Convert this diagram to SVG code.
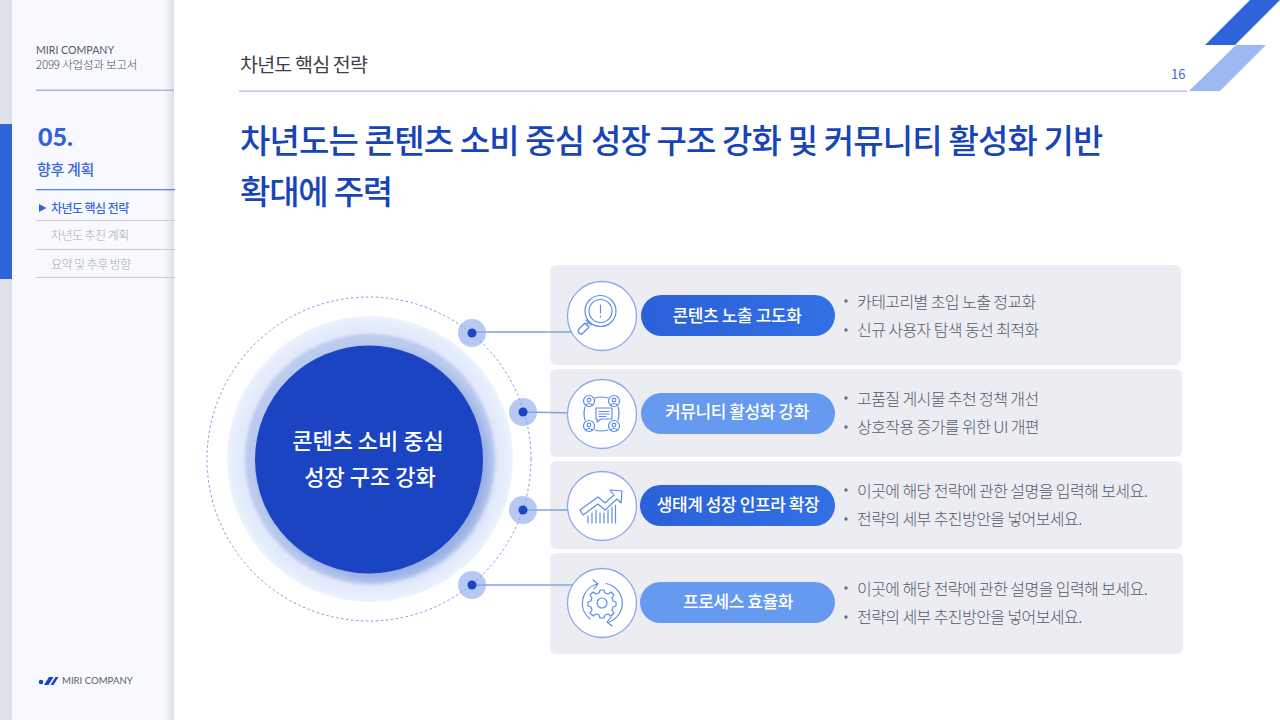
<svg xmlns="http://www.w3.org/2000/svg" width="1280" height="720" viewBox="0 0 1280 720">
<style>
text{font-family:"Noto Sans CJK KR","Noto Sans",sans-serif}
.lat{font-family:"Lato","Noto Sans CJK KR",sans-serif}
.card{fill:#ecedf3}
.pill{font-size:17px;font-weight:500;fill:#fff;text-anchor:middle;letter-spacing:-.4px}
.body{font-size:16px;font-weight:300;fill:#555a66;letter-spacing:-.57px}
.bul{fill:#666b76}
.ic{fill:#fff;stroke:#8aa8ea;stroke-width:1.3}
.g{fill:none;stroke:#5f8ce6;stroke-width:1.200;stroke-linecap:round;stroke-linejoin:round}
.side{font-size:12px;letter-spacing:-.55px}
.conn{stroke:#7fa2e6;stroke-width:1.300;fill:none}
.halo{fill:#8aa8ea;fill-opacity:.62}
.dot{fill:#1c45c4}
</style>
<defs>
<linearGradient id="sh" x1="0" x2="1" y1="0" y2="0"><stop offset="0" stop-color="#d9dce6" stop-opacity="0"/><stop offset="1" stop-color="#d9dce6" stop-opacity=".9"/></linearGradient>
<linearGradient id="p1" x1="0" x2="1"><stop offset="0" stop-color="#2b60d8"/><stop offset="1" stop-color="#3270e4"/></linearGradient>
<radialGradient id="out"><stop offset=".85" stop-color="#dfe8fa"/><stop offset=".96" stop-color="#e6edfc"/><stop offset="1" stop-color="#eef3fd"/></radialGradient>
<filter id="blur" x="-20%" y="-20%" width="140%" height="140%"><feGaussianBlur stdDeviation="5"/></filter>
<filter id="soft" x="-10%" y="-10%" width="120%" height="120%"><feGaussianBlur stdDeviation="1.500"/></filter>
</defs>
<rect width="1280" height="720" fill="#fff"/>
<g id="sidebar">
<rect x="0" width="12" height="720" fill="#dfe1ea"/>
<rect x="12" width="162" height="720" fill="#f8f9fe"/>
<rect x="164" width="10" height="720" fill="url(#sh)"/>
<rect x="0" y="124" width="12" height="155" fill="#2f63dc"/>
<text x="36" y="54" class="lat" font-size="10.600" fill="#555a66">MIRI COMPANY</text>
<text x="36" y="69" font-size="11.500" font-weight="300" fill="#4a4e5a" letter-spacing="-.2">2099 사업성과 보고서</text>
<rect x="36" y="89.500" width="138" height="1.500" fill="#aab6d6"/>
<text x="38" y="146" class="lat" font-size="25" font-weight="900" fill="#2f63dc">05.</text>
<text x="37" y="175" font-size="15" font-weight="500" fill="#3a68d8" letter-spacing="-.3">향후 계획</text>
<rect x="36" y="189" width="139" height="1.300" fill="#5b85de"/>
<path d="M39 204l7.500 4-7.500 4z" fill="#2f63dc"/>
<text x="51" y="213" class="side" fill="#3a68d8" font-weight="500">차년도 핵심 전략</text>
<rect x="36" y="220" width="139" height="1" fill="#c8cad2"/>
<text x="51" y="240" class="side" font-weight="300" fill="#a8aab2">차년도 추진 계획</text>
<rect x="36" y="249" width="139" height="1" fill="#c8cad2"/>
<text x="51" y="269" class="side" font-weight="300" fill="#a8aab2">요약 및 추후 방향</text>
<rect x="36" y="277" width="139" height="1" fill="#c8cad2"/>
<g id="logo">
<circle cx="41" cy="682" r="2.300" fill="#1c45c4"/>
<path d="M44 685l5-8h4.500l-5 8zM50.500 685l5-8h3l-5 8z" fill="#1c45c4"/>
<text x="62" y="684" class="lat" font-size="9.600" fill="#5c5f6b">MIRI COMPANY</text>
</g>
</g>
<g id="header">
<text x="240" y="72" font-size="19.500" font-weight="400" fill="#3c4048" letter-spacing="-.8">차년도 핵심 전략</text>
<rect x="239" y="90.500" width="948" height="1.300" fill="#a9bbe8"/>
<text x="1171" y="79" font-family="Roboto" font-size="13" fill="#3a68d8">16</text>
<path d="M1205 45l45-45h30l-45 45z" fill="#2f63dc"/>
<path d="M1189 91l47-46h30l-46 46z" fill="#9db8f2"/>
</g>
<g id="title" font-size="33" font-weight="500" fill="#1745b8">
<text x="240" y="153" letter-spacing="-.85">차년도는 콘텐츠 소비 중심 성장 구조 강화 및 커뮤니티 활성화 기반</text>
<text x="240" y="204" letter-spacing="-1.200">확대에 주력</text>
</g>
<g id="cards">
<rect class="card" x="550" y="265" width="631" height="100" rx="6"/>
<rect class="card" x="550" y="369" width="632" height="88" rx="6"/>
<rect class="card" x="550" y="461" width="632" height="88" rx="6"/>
<rect class="card" x="550" y="553" width="633" height="101" rx="6"/>
</g>
<g id="center-node">
<circle cx="369" cy="459" r="162" fill="none" stroke="#7f9ade" stroke-width="1" stroke-dasharray="2.500 2.500"/>
<circle cx="370" cy="459" r="143" fill="url(#out)"/>
<circle cx="370" cy="459" r="125" fill="#bccbee" filter="url(#soft)"/>
<circle cx="375" cy="465" r="115" fill="#7f9be0" fill-opacity=".6" filter="url(#blur)"/>
<circle cx="369" cy="459.500" r="114" fill="#1a44c2"/>
<text x="368" y="449" font-size="22" font-weight="500" fill="#fff" text-anchor="middle">콘텐츠 소비 중심</text>
<text x="370" y="485" font-size="22" font-weight="500" fill="#fff" text-anchor="middle">성장 구조 강화</text>
</g>
<g id="connectors">
<path class="conn" d="M472 332H575"/>
<path class="conn" d="M523 412L575 413"/>
<path class="conn" d="M523 510H575"/>
<path class="conn" d="M472 585H575"/>
</g>
<g id="anchors">
<circle class="halo" cx="472" cy="333" r="14"/><circle class="dot" cx="472" cy="333" r="4.500"/>
<circle class="halo" cx="523" cy="412" r="14"/><circle class="dot" cx="523" cy="412" r="4.500"/>
<circle class="halo" cx="523" cy="510" r="14"/><circle class="dot" cx="523" cy="510" r="4.500"/>
<circle class="halo" cx="472" cy="585" r="14"/><circle class="dot" cx="472" cy="585" r="4.500"/>
</g>
<g id="node-1">
<circle class="ic" cx="602" cy="316" r="34.500"/>
<g class="g"><circle cx="600.500" cy="311" r="15.500"/><circle cx="600.500" cy="311" r="11.500"/><path d="M600.500 305v8M600.500 316v1"/><path d="M589 322l-3 3M586 320l5 5M585 323l-6 6a2.500 2.500 0 0 0 4 4l6-6z"/></g>
<rect x="641" y="295" width="194" height="41" rx="20.500" fill="url(#p1)"/>
<text class="pill" x="737" y="322">콘텐츠 노출 고도화</text>
<circle class="bul" cx="846" cy="301" r="1.700"/><text class="body" x="857" y="308">카테고리별 초입 노출 정교화</text>
<circle class="bul" cx="846" cy="330" r="1.700"/><text class="body" x="857" y="336">신규 사용자 탐색 동선 최적화</text>
</g>
<g id="node-2">
<circle class="ic" cx="602" cy="414" r="34.500"/>
<g class="g"><circle cx="589" cy="401" r="5.500"/><circle cx="614" cy="401" r="5.500"/><circle cx="589" cy="426" r="5.500"/><circle cx="614" cy="426" r="5.500"/><circle cx="589" cy="400" r="1.800"/><circle cx="614" cy="400" r="1.800"/><circle cx="589" cy="425" r="1.800"/><circle cx="614" cy="425" r="1.800"/><path d="M585.500 405q3.500-3 7 0M610.500 405q3.500-3 7 0M585.500 430q3.500-3 7 0M610.500 430q3.500-3 7 0"/><path d="M595 398q6-2 13 0M595 430q6 2 13 0M585 407q-2 6 0 13M618 407q2 6 0 13"/><path d="M596 408h16v11h-11l-4 3v-3h-1zM599 411.500h10M599 414h10M599 416.500h7"/></g>
<rect x="641" y="393" width="194" height="41" rx="20.500" fill="#659af0"/>
<text class="pill" x="737" y="418">커뮤니티 활성화 강화</text>
<circle class="bul" cx="846" cy="398" r="1.700"/><text class="body" x="857" y="405">고품질 게시물 추천 정책 개선</text>
<circle class="bul" cx="846" cy="427" r="1.700"/><text class="body" x="857" y="433">상호작용 증가를 위한 UI 개편</text>
</g>
<g id="node-3">
<circle class="ic" cx="602" cy="506" r="34.500"/>
<g class="g"><path d="M580 510L598 497L605 503L614 495L610 490L622 491L621 503L617 499L605 510L598 504L583 515Z"/><path d="M588 523v-7M592 523v-10M596 523v-13M600 523v-10M604 523v-10M608 523v-13M612 523v-16M615.500 523v-18"/></g>
<rect x="640" y="485" width="195" height="41" rx="20.500" fill="url(#p1)"/>
<text class="pill" x="738" y="511">생태계 성장 인프라 확장</text>
<circle class="bul" cx="846" cy="490" r="1.700"/><text class="body" x="857" y="497">이곳에 해당 전략에 관한 설명을 입력해 보세요.</text>
<circle class="bul" cx="846" cy="519" r="1.700"/><text class="body" x="857" y="525">전략의 세부 추진방안을 넣어보세요.</text>
</g>
<g id="node-4">
<circle class="ic" cx="602" cy="603" r="34.500"/>
<g class="g"><circle cx="602" cy="603" r="5"/><path d="M600 590h4l1 3 3 1 3-2 3 3-2 3 1 3 3 1v4l-3 1-1 3 2 3-3 3-3-2-3 1-1 3h-4l-1-3-3-1-3 2-3-3 2-3-1-3-3-1v-4l3-1 1-3-2-3 3-3 3 2 3-1z"/><path d="M590 619A20 20 0 0 1 597 584M593 580l5 4-4 5M606 583.500A20 20 0 0 1 609 622M612 626l-5-4 4-5"/></g>
<rect x="640" y="582" width="195" height="41" rx="20.500" fill="#659af0"/>
<text class="pill" x="738" y="608">프로세스 효율화</text>
<circle class="bul" cx="846" cy="588" r="1.700"/><text class="body" x="857" y="595">이곳에 해당 전략에 관한 설명을 입력해 보세요.</text>
<circle class="bul" cx="846" cy="617" r="1.700"/><text class="body" x="857" y="623">전략의 세부 추진방안을 넣어보세요.</text>
</g>
</svg>
